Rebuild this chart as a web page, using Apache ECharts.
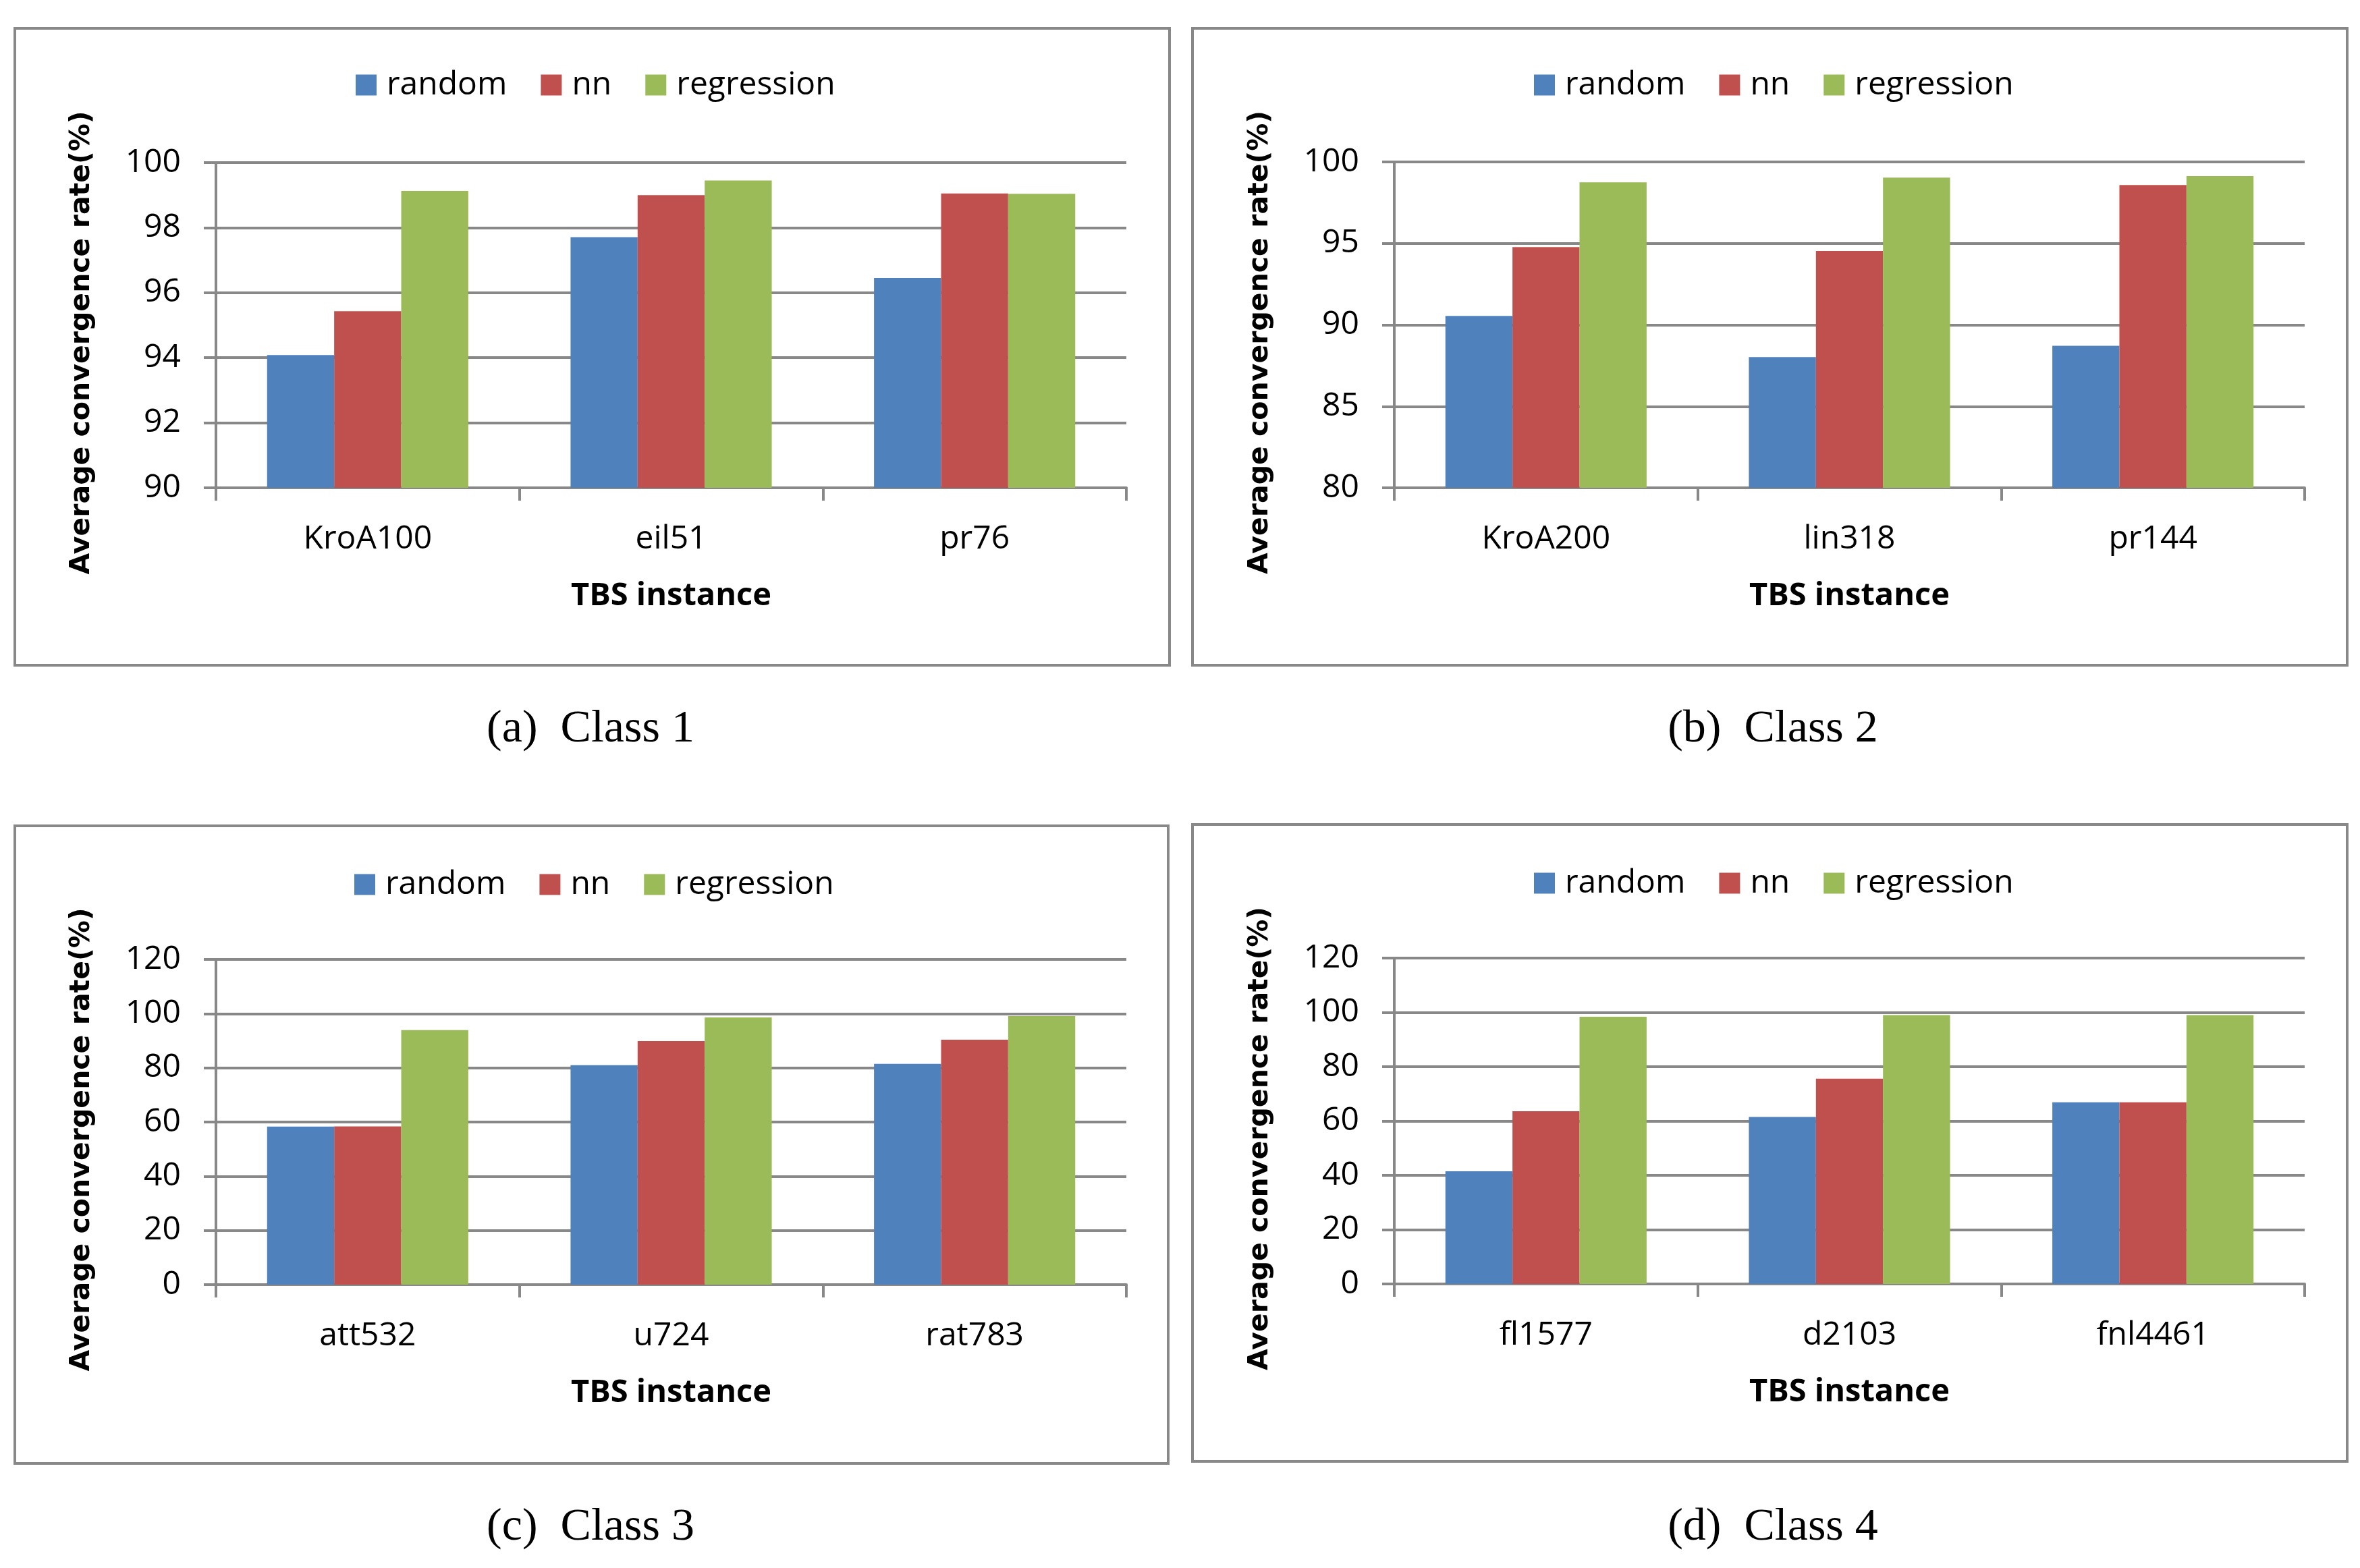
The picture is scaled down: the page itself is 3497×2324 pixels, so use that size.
<!DOCTYPE html>
<html>
<head>
<meta charset="utf-8">
<script src="https://cdn.jsdelivr.net/npm/echarts@6/dist/echarts.min.js"></script>
<style>
	html, body { margin: 0; padding: 0; background: #fff; }
	#main { width: 3497px; height: 2324px; }
</style>
</head>
<body>
<div id="main"></div>
<script>
var seriesNames = ['random', 'nn', 'regression'];
var colors = ['#4F81BD', '#C0504D', '#9BBB59'];

// class 1
var class1Names = ['KroA100', 'eil51', 'pr76'];
var class1Random = [94.08, 97.71, 96.45];
var class1Nn = [95.43, 99.0, 99.05];
var class1Regression = [99.13, 99.45, 99.04];

// class 2
var class2Names = ['KroA200', 'lin318', 'pr144'];
var class2Random = [90.55, 88.02, 88.72];
var class2Nn = [94.77, 94.53, 98.58];
var class2Regression = [98.75, 99.04, 99.13];

// class 3
var class3Names = ['att532', 'u724', 'rat783'];
var class3Random = [58.3, 81.0, 81.5];
var class3Nn = [58.4, 89.9, 90.4];
var class3Regression = [93.9, 98.6, 99.1];

// class 4
var class4Names = ['fl1577', 'd2103', 'fnl4461'];
var class4Random = [41.5, 61.5, 66.9];
var class4Nn = [63.6, 75.6, 66.9];
var class4Regression = [98.4, 99.0, 99.0];

var yMin = [90, 80, 0, 0];
var yMax = [100, 100, 120, 120];
var yInterval = [2, 5, 20, 20];
var captions = ['(a)  Class 1', '(b)  Class 2', '(c)  Class 3', '(d)  Class 4'];
var xTitle = 'TBS instance';
var yTitle = 'Average convergence rate(%)';

var categories = [class1Names, class2Names, class3Names, class4Names];
var values = [
	[class1Random, class1Nn, class1Regression],
	[class2Random, class2Nn, class2Regression],
	[class3Random, class3Nn, class3Regression],
	[class4Random, class4Nn, class4Regression]
];

// panel layout (pixels)
var layout = [
	{ frame: [22, 42, 1711, 944], grid: [320, 241, 1349, 482], legend: [522, 97], cap: [875, 1081] },
	{ frame: [1767, 42, 1711, 944], grid: [2066, 240, 1349, 483], legend: [2268, 97], cap: [2627, 1081] },
	{ frame: [22, 1224, 1709, 945], grid: [320, 1422, 1349, 482], legend: [520, 1282], cap: [875, 2264] },
	{ frame: [1767, 1222, 1711, 944], grid: [2066, 1420, 1349, 483], legend: [2268, 1280], cap: [2627, 2264] }
];

var gray = '#888888';
var font = '"Open Sans", "Noto Sans", sans-serif';

var myChart = echarts.init(document.getElementById('main'));

var grids = [], xAxes = [], yAxes = [], series = [], legends = [], graphics = [];

layout.forEach(function(p, i) {
	grids.push({
		left: p.grid[0],
		top: p.grid[1],
		width: p.grid[2],
		height: p.grid[3],
		containLabel: false,
		outerBoundsMode: 'none'
	});
	xAxes.push({
		type: 'category',
		gridIndex: i,
		data: categories[i],
		name: xTitle,
		nameLocation: 'middle',
		nameGap: 137,
		nameTextStyle: {
			fontFamily: font,
			fontWeight: 'bold',
			fontSize: 47,
			color: '#000'
		},
		axisLine: { lineStyle: { color: gray, width: 4 } },
		axisTick: { show: true, length: 19, lineStyle: { color: gray, width: 4 } },
		axisLabel: { fontFamily: font, fontSize: 48, color: '#000', margin: 52 }
	});
	yAxes.push({
		type: 'value',
		gridIndex: i,
		min: yMin[i],
		max: yMax[i],
		interval: yInterval[i],
		name: yTitle,
		nameLocation: 'middle',
		nameRotate: 90,
		nameGap: 178,
		nameTextStyle: {
			fontFamily: '"DejaVu Sans", sans-serif',
			fontWeight: 'bold',
			fontSize: 41,
			color: '#000',
			padding: [0, 52, 0, 0]
		},
		axisLine: { show: true, lineStyle: { color: gray, width: 4 } },
		axisTick: { show: true, length: 18, lineStyle: { color: gray, width: 4 } },
		axisLabel: { fontFamily: font, fontSize: 48, color: '#000', margin: 52 },
		splitLine: { show: true, lineStyle: { color: gray, width: 4 } }
	});
	legends.push({
		left: p.legend[0],
		top: p.legend[1],
		data: seriesNames,
		icon: 'rect',
		itemWidth: 31,
		itemHeight: 31,
		itemGap: 50,
		textStyle: { fontFamily: font, fontSize: 48, color: '#000', padding: [0, 0, 0, 10] }
	});
	seriesNames.forEach(function(name, k) {
		series.push({
			name: name,
			type: 'bar',
			xAxisIndex: i,
			yAxisIndex: i,
			data: values[i][k],
			barGap: '0%',
			barCategoryGap: '33.7%',
			itemStyle: { color: colors[k] },
			animation: false
		});
	});
	graphics.push({
		type: 'rect',
		shape: { x: p.frame[0], y: p.frame[1], width: p.frame[2], height: p.frame[3] },
		style: { fill: 'none', stroke: gray, lineWidth: 4 }
	});
	graphics.push({
		type: 'text',
		x: p.cap[0],
		y: p.cap[1],
		style: {
			text: captions[i],
			font: '68px "Liberation Serif", "DejaVu Serif", serif',
			fill: '#000',
			textAlign: 'center',
			textVerticalAlign: 'middle',
			verticalAlign: 'middle'
		}
	});
});

var option = {
	backgroundColor: '#fff',
	animation: false,
	color: colors,
	grid: grids,
	xAxis: xAxes,
	yAxis: yAxes,
	legend: legends,
	series: series,
	graphic: graphics
};
myChart.setOption(option);
</script>
</body>
</html>
